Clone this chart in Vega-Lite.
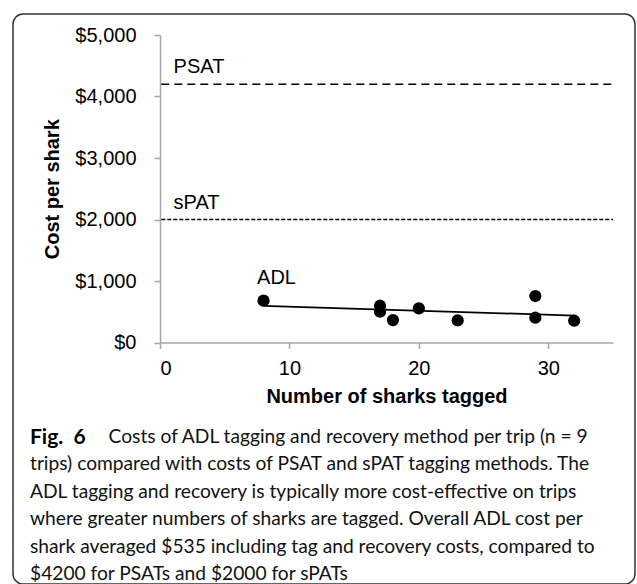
{
  "$schema": "https://vega.github.io/schema/vega-lite/v6.json",
  "width": 622,
  "height": 570,
  "autosize": {"type": "none"},
  "padding": {"left": 13, "top": 14, "right": 2, "bottom": 0},
  "background": "white",
  "title": {
    "text": "Fig.\u00a0\u00a06",
    "subtitle": [
      "\u200b\u00a0\u00a0\u00a0\u00a0\u00a0\u00a0\u00a0\u00a0\u00a0\u00a0\u00a0\u00a0\u00a0\u00a0\u00a0\u00a0Costs of ADL tagging and recovery method per trip (n = 9",
      "trips) compared with costs of PSAT and sPAT tagging methods. The",
      "ADL tagging and recovery is typically more cost-effective on trips",
      "where greater numbers of sharks are tagged. Overall ADL cost per",
      "shark averaged $535 including tag and recovery costs, compared to",
      "$4200 for PSATs and $2000 for sPATs"
    ],
    "orient": "bottom",
    "anchor": "start",
    "frame": "group",
    "font": "Lato",
    "fontSize": 21,
    "fontWeight": "bold",
    "color": "black",
    "subtitleFont": "Lato",
    "subtitleFontSize": 19.2,
    "subtitleColor": "#111111",
    "subtitleLineHeight": 27.4,
    "subtitlePadding": -20,
    "offset": -157,
    "dx": 17
  },
  "datasets": {
    "adl": [
      {"sharks": 8, "cost": 680},
      {"sharks": 17, "cost": 598},
      {"sharks": 17, "cost": 500},
      {"sharks": 18, "cost": 365},
      {"sharks": 20, "cost": 554},
      {"sharks": 23, "cost": 359},
      {"sharks": 29, "cost": 756},
      {"sharks": 29, "cost": 403},
      {"sharks": 32, "cost": 354}
    ],
    "refs": [
      {"method": "PSAT", "cost": 4200},
      {"method": "sPAT", "cost": 2000}
    ]
  },
  "layer": [
    {
      "data": {"name": "refs"},
      "mark": {"type": "rule", "color": "black", "strokeWidth": 1.5},
      "encoding": {
        "x": {"datum": 0.1, "type": "quantitative"},
        "x2": {"datum": 35},
        "y": {"field": "cost", "type": "quantitative"},
        "strokeDash": {
          "field": "method",
          "type": "nominal",
          "scale": {"domain": ["PSAT", "sPAT"], "range": [[8, 5], [4, 2]]},
          "legend": null
        }
      }
    },
    {
      "data": {"name": "refs"},
      "mark": {"type": "text", "align": "left", "baseline": "middle", "dy": -17, "font": "Liberation Sans", "fontSize": 20, "color": "black"},
      "encoding": {
        "x": {"datum": 1.05, "type": "quantitative"},
        "y": {"field": "cost", "type": "quantitative"},
        "text": {"field": "method"}
      }
    },
    {
      "data": {"name": "adl"},
      "transform": [{"regression": "cost", "on": "sharks"}],
      "mark": {"type": "line", "color": "black", "strokeWidth": 1.75},
      "encoding": {
        "x": {"field": "sharks", "type": "quantitative"},
        "y": {"field": "cost", "type": "quantitative"}
      }
    },
    {
      "data": {"name": "adl"},
      "mark": {"type": "circle", "color": "black", "opacity": 1, "size": 150},
      "encoding": {
        "x": {
          "field": "sharks",
          "type": "quantitative",
          "title": "Number of sharks tagged",
          "scale": {"domain": [0, 35], "range": [147, 600], "nice": false, "zero": true},
          "axis": {"values": [0, 10, 20, 30], "labelPadding": 10, "titlePadding": 8, "offset": -241.5}
        },
        "y": {
          "field": "cost",
          "type": "quantitative",
          "title": "Cost per shark",
          "scale": {"domain": [0, 5000], "range": [328.5, 21], "nice": false},
          "axis": {"values": [0, 1000, 2000, 3000, 4000, 5000], "format": "$,.0f", "labelPadding": 18, "titlePadding": 12, "offset": -147}
        }
      }
    },
    {
      "data": {"values": [{"label": "ADL"}]},
      "mark": {"type": "text", "align": "left", "baseline": "middle", "font": "Liberation Sans", "fontSize": 20, "color": "black"},
      "encoding": {
        "x": {"datum": 7.5, "type": "quantitative"},
        "y": {"datum": 1050, "type": "quantitative"},
        "text": {"field": "label"}
      }
    }
  ],
  "config": {
    "view": {"stroke": "#333333", "strokeWidth": 1.5, "cornerRadius": 10, "fill": "white"},
    "axis": {
      "grid": false,
      "domainColor": "#a6a6a6",
      "domainWidth": 1.5,
      "tickColor": "#a6a6a6",
      "tickWidth": 1.5,
      "tickSize": 6,
      "labelFont": "Liberation Sans",
      "labelFontSize": 20,
      "labelColor": "black",
      "titleFont": "Liberation Sans",
      "titleFontSize": 20,
      "titleFontWeight": "bold",
      "titleColor": "black"
    }
  }
}
